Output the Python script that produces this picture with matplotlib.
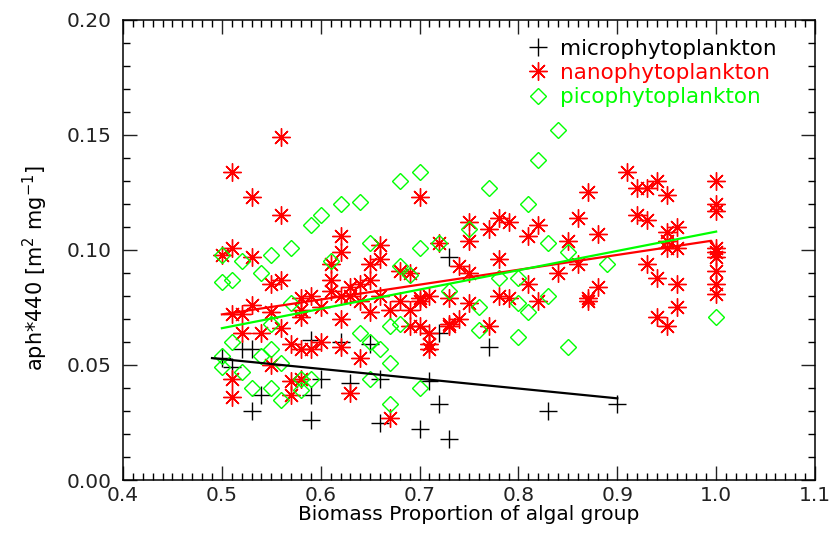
import matplotlib
matplotlib.use("Agg")
import matplotlib.pyplot as plt
from matplotlib.ticker import MultipleLocator, FormatStrFormatter

plt.rcParams["font.family"] = ["DejaVu Sans"]

# microphytoplankton (black +)
micro_x = [0.50, 0.51, 0.52, 0.53, 0.53, 0.54, 0.59, 0.59, 0.60, 0.59, 0.62, 0.63,
           0.65, 0.66, 0.66, 0.71, 0.72, 0.70, 0.73, 0.77, 0.83, 0.72, 0.73, 0.90]
micro_y = [0.053, 0.049, 0.057, 0.057, 0.030, 0.037, 0.026, 0.037, 0.044, 0.061, 0.060, 0.042,
           0.059, 0.025, 0.044, 0.043, 0.033, 0.022, 0.018, 0.058, 0.030, 0.064, 0.097, 0.033]

# nanophytoplankton (red asterisks)
nano_x = [0.56, 0.51, 0.53, 0.56, 0.62, 0.51, 0.50, 0.53, 0.62, 0.61, 0.65, 0.56,
          0.61, 0.65, 0.55, 0.64, 0.53, 0.52, 0.55, 0.51, 0.58, 0.59, 0.62, 0.63,
          0.58, 0.62, 0.65, 0.52, 0.54, 0.56, 0.57, 0.58, 0.59, 0.60, 0.62, 0.64,
          0.55, 0.51, 0.51, 0.57, 0.57, 0.58, 0.63, 0.67, 0.71, 0.71, 0.73, 0.75,
          0.69, 0.67, 0.70, 0.66, 0.66, 0.61, 0.63, 0.64, 0.68, 0.69, 0.72, 0.74,
          0.75, 0.75, 0.75, 0.66, 0.70, 0.71, 0.73, 0.60, 0.58, 0.70, 0.78, 0.79,
          0.77, 0.81, 0.82, 0.86, 0.85, 0.87, 0.78, 0.84, 0.86, 0.91, 0.92, 0.93,
          0.94, 0.95, 0.92, 0.93, 1.00, 1.00, 1.00, 0.88, 0.95, 0.96, 0.95, 0.96,
          0.95, 0.93, 0.94, 0.96, 0.88, 0.87, 0.96, 0.94, 1.00, 1.00, 1.00, 1.00,
          1.00, 1.00, 0.69, 0.70, 0.71, 0.73, 0.74, 0.77, 0.78, 0.79, 0.82, 0.81,
          0.87, 0.68, 0.95]
nano_y = [0.149, 0.134, 0.123, 0.115, 0.106, 0.101, 0.098, 0.097, 0.099, 0.094, 0.094, 0.087,
          0.087, 0.087, 0.085, 0.085, 0.076, 0.072, 0.073, 0.072, 0.079, 0.080, 0.080, 0.080,
          0.074, 0.070, 0.073, 0.064, 0.064, 0.066, 0.059, 0.057, 0.057, 0.060, 0.058, 0.053,
          0.050, 0.044, 0.036, 0.037, 0.043, 0.044, 0.038, 0.027, 0.059, 0.064, 0.068, 0.077,
          0.074, 0.074, 0.078, 0.096, 0.102, 0.082, 0.084, 0.078, 0.091, 0.090, 0.103, 0.093,
          0.090, 0.104, 0.112, 0.080, 0.079, 0.080, 0.079, 0.075, 0.071, 0.123, 0.114, 0.112,
          0.109, 0.106, 0.111, 0.114, 0.104, 0.125, 0.096, 0.090, 0.094, 0.134, 0.127, 0.127,
          0.130, 0.124, 0.115, 0.113, 0.130, 0.120, 0.117, 0.107, 0.108, 0.110, 0.104, 0.101,
          0.101, 0.094, 0.088, 0.085, 0.084, 0.078, 0.075, 0.071, 0.101, 0.099, 0.097, 0.091,
          0.085, 0.081, 0.067, 0.067, 0.057, 0.067, 0.070, 0.067, 0.080, 0.079, 0.078, 0.085,
          0.079, 0.078, 0.067]

# picophytoplankton (green diamonds)
pico_x = [0.59, 0.60, 0.62, 0.64, 0.57, 0.55, 0.52, 0.50, 0.54, 0.51, 0.50, 0.61,
          0.65, 0.84, 0.82, 0.70, 0.68, 0.77, 0.81, 0.70, 0.75, 0.72, 0.83, 0.85,
          0.89, 0.68, 0.69, 0.78, 0.80, 0.83, 0.80, 0.81, 1.00, 0.76, 0.80, 0.85,
          0.76, 0.67, 0.66, 0.70, 0.67, 0.67, 0.68, 0.73, 0.51, 0.50, 0.50, 0.52,
          0.53, 0.54, 0.55, 0.56, 0.55, 0.56, 0.58, 0.59, 0.57, 0.55, 0.64, 0.65,
          0.65, 0.58]
pico_y = [0.111, 0.115, 0.120, 0.121, 0.101, 0.098, 0.095, 0.098, 0.090, 0.087, 0.086, 0.095,
          0.103, 0.152, 0.139, 0.134, 0.130, 0.127, 0.120, 0.101, 0.109, 0.103, 0.103, 0.099,
          0.094, 0.093, 0.089, 0.088, 0.088, 0.080, 0.077, 0.073, 0.071, 0.075, 0.062, 0.058,
          0.065, 0.051, 0.057, 0.040, 0.033, 0.067, 0.068, 0.082, 0.060, 0.054, 0.049, 0.047,
          0.040, 0.054, 0.057, 0.051, 0.040, 0.035, 0.039, 0.044, 0.077, 0.068, 0.064, 0.060,
          0.044, 0.044]

# fitted lines
micro_fit_x = [0.49, 0.90]
micro_fit_y = [0.053, 0.0355]
nano_fit_x = [0.50, 0.995, 1.00]
nano_fit_y = [0.072, 0.104, 0.100]
pico_fit_x = [0.50, 1.00]
pico_fit_y = [0.066, 0.108]

labels = ["microphytoplankton", "nanophytoplankton", "picophytoplankton"]
colors = ["black", "red", "#00ff00"]

fig = plt.figure(figsize=(8.33, 5.40), dpi=100)
ax = fig.add_axes([0.1477, 0.1111, 0.8307, 0.8519])

ax.plot(micro_x, micro_y, linestyle="none", marker="+", markersize=13,
        markeredgewidth=1.0, color=colors[0], label=labels[0])
ax.plot(nano_x, nano_y, linestyle="none", marker=(8, 2, 0), markersize=13,
        markeredgewidth=1.0, color=colors[1], label=labels[1])
ax.plot(nano_x, nano_y, linestyle="none", marker="o", markersize=2.5,
        color=colors[1])
ax.plot(pico_x, pico_y, linestyle="none", marker="D", markersize=8,
        markeredgewidth=1.0, markerfacecolor="none", markeredgecolor=colors[2],
        label=labels[2])

ax.plot(micro_fit_x, micro_fit_y, color=colors[0], linewidth=1.6)
ax.plot(nano_fit_x, nano_fit_y, color=colors[1], linewidth=1.6)
ax.plot(pico_fit_x, pico_fit_y, color=colors[2], linewidth=1.6)

ax.set_xlim(0.4, 1.1)
ax.set_ylim(0.0, 0.2)
ax.xaxis.set_major_locator(MultipleLocator(0.1))
ax.xaxis.set_minor_locator(MultipleLocator(0.01))
ax.yaxis.set_major_locator(MultipleLocator(0.05))
ax.yaxis.set_minor_locator(MultipleLocator(0.01))
ax.xaxis.set_major_formatter(FormatStrFormatter("%.1f"))
ax.yaxis.set_major_formatter(FormatStrFormatter("%.2f"))
ax.tick_params(which="both", direction="in", top=True, right=True, width=1.0)
ax.tick_params(which="major", length=10, labelsize=14.5, colors="#222222")
ax.tick_params(axis="x", which="major", pad=4)
ax.tick_params(axis="y", which="major", pad=8)
ax.tick_params(which="minor", length=5)
for s in ax.spines.values():
    s.set_linewidth(1.1)

ax.set_xlabel("Biomass Proportion of algal group", fontsize=14.5, labelpad=0)
ax.set_ylabel("aph*440 [m$^2$ mg$^{-1}$]", fontsize=15)
ax.yaxis.set_label_coords(-0.105, 0.46)

ax.legend(loc="upper right", bbox_to_anchor=(0.957, 0.978), frameon=False,
          fontsize=15.5, labelcolor=colors, handletextpad=0.45, labelspacing=0.2,
          handlelength=1.1, borderaxespad=0.0)

fig.savefig("out.png", dpi=100)
